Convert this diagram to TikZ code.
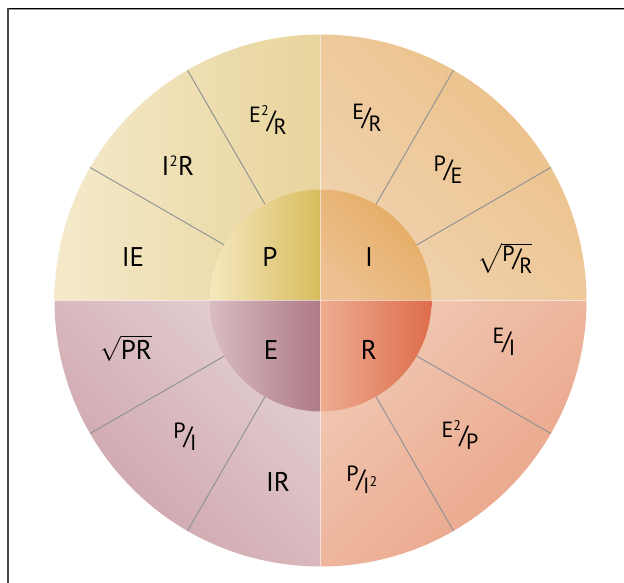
\documentclass[tikz,border=0pt]{standalone}
\usepackage{fontspec}
\setmainfont{PT Sans}
\usepackage{amsmath}
\definecolor{pOutL}{HTML}{F4E9CA}
\definecolor{pOutR}{HTML}{E8D49C}
\definecolor{iOutLL}{HTML}{F0D3B0}
\definecolor{iOutUR}{HTML}{EBBF85}
\definecolor{rOutUL}{HTML}{F1C9B4}
\definecolor{rOutLR}{HTML}{E9A285}
\definecolor{eOutUR}{HTML}{E3D0D2}
\definecolor{eOutLL}{HTML}{CDA1A9}
\definecolor{pInL}{HTML}{F5E8BE}
\definecolor{pInR}{HTML}{D8BC5E}
\definecolor{iInLL}{HTML}{EEC192}
\definecolor{iInUR}{HTML}{E3AA5E}
\definecolor{rInL}{HTML}{EEAC91}
\definecolor{rInR}{HTML}{DD6D4C}
\definecolor{eInL}{HTML}{D9BDC2}
\definecolor{eInR}{HTML}{AE7A87}
\definecolor{spokec}{HTML}{8C9096}
\newcommand{\myfr}[2]{\raisebox{0.2em}{\fontsize{22}{22}\selectfont #1}\kern-0.08em{\fontsize{25}{25}\selectfont /}\kern-0.08em\raisebox{-0.24em}{\fontsize{22}{22}\selectfont #2}}
\newcommand{\smsup}{\textsuperscript{\fontsize{14}{14}\selectfont 2}}
\tikzset{
  lbl/.style={inner sep=0pt, font=\fontsize{27}{27}\selectfont},
  spoke/.style={draw=spokec, line width=0.9pt},
  seam/.style={draw=white, opacity=0.45, line width=0.8pt}
}
\begin{document}
\begin{tikzpicture}[x=1pt,y=1pt]
\useasboundingbox (-320.5,-282.5) rectangle (303.5,300.5);
\def\ro{266}
\def\ri{111}
% outer quadrants
\shade[left color=pOutL, right color=pOutR] (0,0) -- (-\ro,0) arc[start angle=180,end angle=90,radius=\ro] -- cycle;
\shade[top color=iOutUR, bottom color=iOutLL, shading angle=-45] (0,0) -- (\ro,0) arc[start angle=0,end angle=90,radius=\ro] -- cycle;
\shade[top color=rOutUL, bottom color=rOutLR, shading angle=45] (0,0) -- (\ro,0) arc[start angle=0,end angle=-90,radius=\ro] -- cycle;
\shade[top color=eOutUR, bottom color=eOutLL, shading angle=-45] (0,0) -- (-\ro,0) arc[start angle=180,end angle=270,radius=\ro] -- cycle;
% spokes
\foreach \a in {30,60,120,150,210,240,300,330}
  \draw[spoke] (\a:\ri) -- (\a:\ro);
% inner quadrants
\shade[left color=pInL, right color=pInR] (0,0) -- (-\ri,0) arc[start angle=180,end angle=90,radius=\ri] -- cycle;
\shade[top color=iInUR, bottom color=iInLL, shading angle=-45] (0,0) -- (\ri,0) arc[start angle=0,end angle=90,radius=\ri] -- cycle;
\shade[left color=rInL, right color=rInR] (0,0) -- (\ri,0) arc[start angle=0,end angle=-90,radius=\ri] -- cycle;
\shade[left color=eInL, right color=eInR] (0,0) -- (-\ri,0) arc[start angle=180,end angle=270,radius=\ri] -- cycle;
% seams
\draw[seam] (-\ro,0) -- (\ro,0);
\draw[seam] (0,-\ro) -- (0,\ro);
% frame
\draw[line width=1.6pt, black] (-313.5,292) -- (303.5,292);
\draw[line width=0.8pt, black!40] (-312,290.6) -- (303.5,290.6);
\draw[line width=1.8pt, black!72] (-312.5,292.8) -- (-312.5,-282.5);
% centre letters
\node[lbl] (P) at (-50.5,43.5) {P};
\node[lbl] (I) at (48.5,43.5) {I};
\node[lbl] (E) at (-49.5,-49.5) {E};
\node[lbl] (R) at (48.5,-49.5) {R};
% outer labels
\node[lbl] (e2r) at (-52.5,180.5) {\myfr{E\smsup}{R}};
\node[lbl] (er) at (46.5,182.5) {\myfr{E}{R}};
\node[lbl] (pe) at (127.5,130.5) {\myfr{P}{E}};
\node[lbl] (spr) at (184.5,42.5) {$\sqrt{\mbox{\myfr{P}{R}}}$};
\node[lbl] (ie) at (-187.5,43.5) {IE};
\node[lbl] (i2r) at (-142.5,134.5) {I\textsuperscript{\fontsize{15}{15}\selectfont 2}R};
\node[lbl] (sqpr) at (-194.5,-47.5) {$\sqrt{\mbox{PR}}$};
\node[lbl] (pi) at (-135.5,-136.5) {\myfr{P}{I}};
\node[lbl] (ir) at (-42.5,-181.5) {IR};
\node[lbl] (pi2) at (41.5,-179.5) {\myfr{P}{I\smsup}};
\node[lbl] (e2p) at (139.5,-134.5) {\myfr{E\smsup}{P}};
\node[lbl] (ei) at (183.5,-41.5) {\myfr{E}{I}};
\end{tikzpicture}
\end{document}
